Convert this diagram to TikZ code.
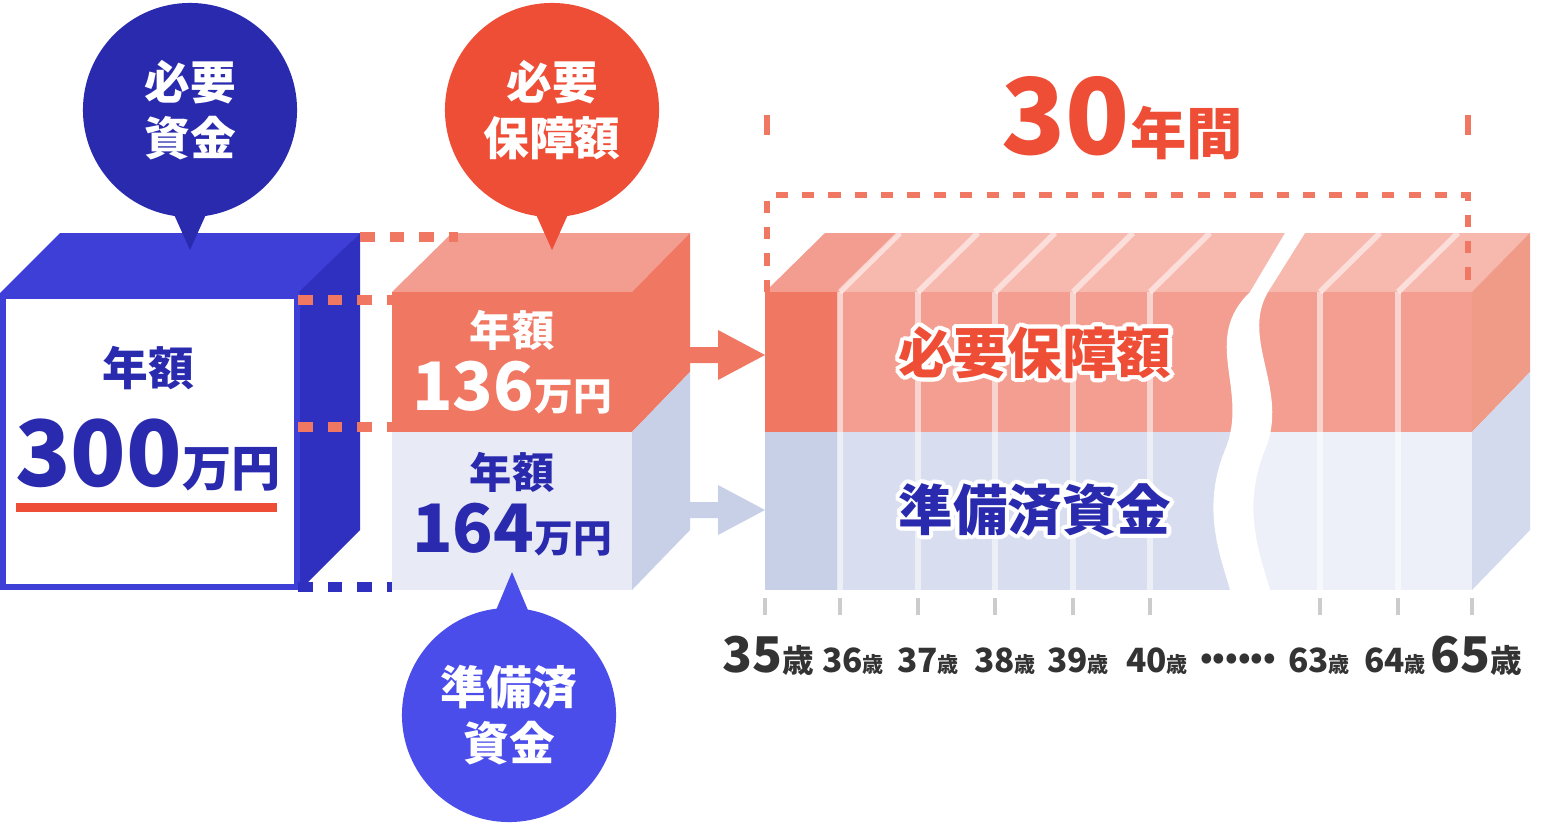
\documentclass[tikz,border=0pt]{standalone}
\usepackage{fontspec}
\setmainfont{Noto Sans CJK JP}
\usepackage{contour}
\contourlength{1.2pt}
\usetikzlibrary{positioning}
\definecolor{navy}{HTML}{2A2AAE}
\definecolor{royal}{HTML}{3D3FD6}
\definecolor{royalside}{HTML}{2F30BF}
\definecolor{callblue}{HTML}{4B4DEA}
\definecolor{callred}{HTML}{EE4D36}
\definecolor{redfront}{HTML}{F07762}
\definecolor{redtop}{HTML}{F39C90}
\definecolor{redlight}{HTML}{F39E91}
\definecolor{redtoplight}{HTML}{F7B8AE}
\definecolor{redside}{HTML}{F09A88}
\definecolor{greyfront}{HTML}{E8EBF5}
\definecolor{greyside}{HTML}{C8D0E8}
\definecolor{greymid}{HTML}{D8DDEF}
\definecolor{greylight}{HTML}{EDF0F9}
\definecolor{dashred}{HTML}{F07762}
\definecolor{ink}{HTML}{333333}
\begin{document}
\begin{tikzpicture}[x={(0.01cm,0)}, y={(0,-0.01cm)}, font=\bfseries]
  \tikzset{callout/.style={circle, minimum size=2.14cm, text=white, align=center, font=\bfseries\fontsize{13pt}{16pt}\selectfont}}
  \tikzset{dashline/.style={line width=2.6pt, dash pattern=on 4.2pt off 4.2pt}}
  \tikzset{sep/.style={white, opacity=0.55, line width=1.6pt}}
  \tikzset{tick/.style={draw=gray!40, line width=1pt}}
  \tikzset{age/.style={text=ink, inner sep=0pt, anchor=base, font=\bfseries\fontsize{9.5pt}{11pt}\selectfont}}
  \useasboundingbox (0,0) rectangle (1543,824);

  % left box: required funds
  \fill[royal] (0,293) -- (60,233) -- (360,233) -- (300,293) -- cycle;
  \fill[royalside] (298,293) -- (360,233) -- (360,530) -- (300,590) -- cycle;
  \fill[royal] (0,293) rectangle (300,590);
  \fill[white] (6,299) rectangle (294,584);
  \node[text=navy, font=\bfseries\fontsize{13pt}{14pt}\selectfont] (totalhead) at (148,368) {年額};
  \node[text=navy, inner sep=0pt] (total) at (148,455) {\fontsize{26pt}{27pt}\selectfont 300\fontsize{14pt}{15pt}\selectfont 万円};
  \fill[callred] (16,503) rectangle (277,512);

  % middle box: split
  \fill[redtop] (392,292) -- (452,233) -- (690,233) -- (632,292) -- cycle;
  \fill[redfront] (632,292) -- (690,233) -- (690,372) -- (632,432) -- cycle;
  \fill[greyside] (632,432) -- (690,372) -- (690,530) -- (632,590) -- cycle;
  \fill[redfront] (392,292) rectangle (632,432);
  \fill[greyfront] (392,432) rectangle (632,590);
  \node[text=white, font=\bfseries\fontsize{12pt}{13pt}\selectfont] (redhead) at (512,330) {年額};
  \node[text=white, inner sep=0pt] (redval) at (512,388) {\fontsize{19pt}{20pt}\selectfont 136\fontsize{11pt}{12pt}\selectfont 万円};
  \node[text=navy, font=\bfseries\fontsize{12pt}{13pt}\selectfont] (bluehead) at (512,472) {年額};
  \node[text=navy, inner sep=0pt] (blueval) at (512,530) {\fontsize{19pt}{20pt}\selectfont 164\fontsize{11pt}{12pt}\selectfont 万円};

  % dashed guides
  \coordinate (g1a) at (360,237); \coordinate (g1b) at (458,237);
  \coordinate (g2a) at (298,300); \coordinate (g2b) at (392,300);
  \coordinate (g3a) at (298,427); \coordinate (g3b) at (392,427);
  \coordinate (g4a) at (298,587); \coordinate (g4b) at (392,587);
  \draw[dashline, dashred] (g1a) -- (g1b);
  \draw[dashline, dashred] (g2a) -- (g2b);
  \draw[dashline, dashred] (g3a) -- (g3b);
  \draw[dashline, royalside] (g4a) -- (g4b);

  % callouts
  \node[callout, fill=navy] (need) at (190,110) {必要\\資金};
  \fill[navy] (172,210) -- (208,210) -- (190,250) -- cycle;
  \node[callout, fill=callred] (cover) at (552,110) {必要\\保障額};
  \fill[callred] (534,210) -- (570,210) -- (552,250) -- cycle;
  \node[callout, fill=callblue] (saved) at (509,715) {準備済\\資金};
  \fill[callblue] (494,615) -- (530,615) -- (512,572) -- cycle;

  % arrows into the span
  \fill[redfront] (690,347) -- (718,347) -- (718,330) -- (765,355) -- (718,380) -- (718,363) -- (690,363) -- cycle;
  \fill[greyside] (690,502) -- (718,502) -- (718,485) -- (765,510) -- (718,535) -- (718,518) -- (690,518) -- cycle;

  % 30-year span
  \fill[redtop] (765,292) -- (825,233) -- (1530,233) -- (1472,292) -- cycle;
  \fill[redtoplight] (838,292) -- (898,233) -- (1530,233) -- (1472,292) -- cycle;
  \fill[redside] (1472,292) -- (1530,233) -- (1530,372) -- (1472,432) -- cycle;
  \fill[greyside!80] (1472,432) -- (1530,372) -- (1530,530) -- (1472,590) -- cycle;
  \fill[redlight] (765,292) rectangle (1472,432);
  \fill[greymid] (765,432) rectangle (1250,590);
  \fill[greylight] (1250,432) rectangle (1472,590);
  \fill[redfront] (765,292) rectangle (838,432);
  \fill[greyside] (765,432) rectangle (838,590);
  \foreach \x in {840,918,995,1073,1150,1320,1398}{
    \draw[sep] (\x,292) -- (\x,590);
    \draw[sep] (\x,292) -- (\x+60,233);
  }
  % break
  \fill[white] (1250,292) -- (1285,233) -- (1305,233) -- (1268,292)
    .. controls (1240,340) and (1290,390) .. (1265,450)
    .. controls (1240,510) and (1262,560) .. (1270,590) -- (1230,590)
    .. controls (1222,560) and (1200,510) .. (1225,450)
    .. controls (1250,390) and (1200,340) .. (1250,292) -- cycle;
  \node[text=callred] (coverlabel) at (1035,355) {\fontsize{15.5pt}{17pt}\selectfont\contour{white}{必要保障額}};
  \node[text=navy] (savedlabel) at (1035,512) {\fontsize{15.5pt}{17pt}\selectfont\contour{white}{準備済資金}};

  % bracket
  \coordinate (b1) at (767,292); \coordinate (b2) at (767,195);
  \coordinate (b3) at (1468,195); \coordinate (b4) at (1468,292);
  \coordinate (b5) at (767,115); \coordinate (b6) at (1468,115);
  \draw[dashred, line width=1.8pt, dash pattern=on 3.5pt off 4pt] (b1) -- (b2) -- (b3) -- (b4);
  \draw[dashred, line width=1.8pt] (b5) -- ++(0,20);
  \draw[dashred, line width=1.8pt] (b6) -- ++(0,20);
  \node[text=callred, inner sep=0pt] (span) at (1122,118) {\fontsize{30pt}{31pt}\selectfont 30\fontsize{16pt}{17pt}\selectfont 年間};

  % ages
  \foreach \x in {765,840,918,995,1073,1150,1320,1398,1472}
    \draw[tick] (\x,598) -- (\x,615);
  \node[age] (a35) at (768,672) {\fontsize{14pt}{15pt}\selectfont 35\fontsize{9pt}{10pt}\selectfont 歳};
  \foreach \x/\n in {853/36,928/37,1005/38,1078/39,1157/40,1319/63,1395/64}
    \node[age] (a\n) at (\x,672) {\n\fontsize{6pt}{7pt}\selectfont 歳};
  \node[age] (dots) at (1238,668) {\fontsize{9pt}{10pt}\selectfont ••••••};
  \node[age] (a65) at (1476,672) {\fontsize{14pt}{15pt}\selectfont 65\fontsize{9pt}{10pt}\selectfont 歳};
\end{tikzpicture}
\end{document}
